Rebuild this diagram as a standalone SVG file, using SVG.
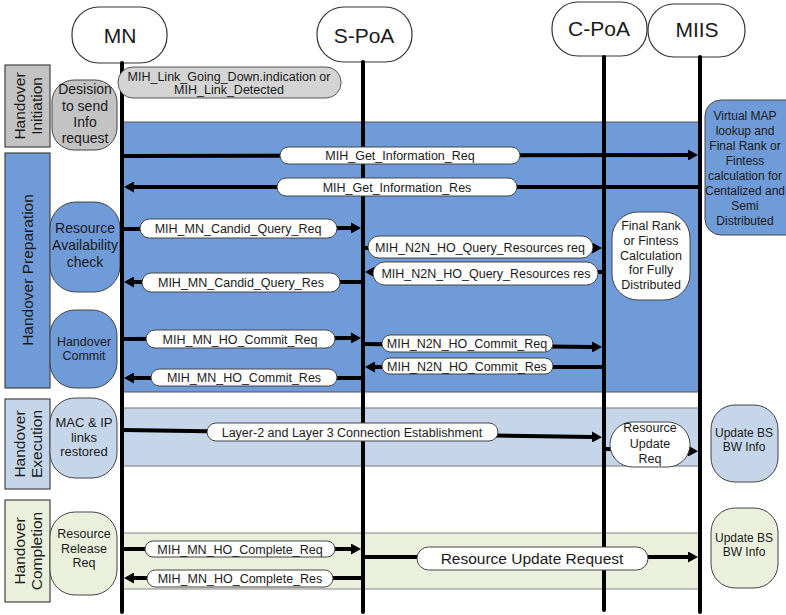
<svg xmlns="http://www.w3.org/2000/svg" width="786" height="615" viewBox="0 0 786 615">
<defs>
<style>
text{font-family:"Liberation Sans",Arial,sans-serif;fill:#1a1a1a}
.actor{fill:#fff;stroke:#333;stroke-width:1.2}
.actor-t{font-size:21px;text-anchor:middle}
.life{stroke:#000;stroke-width:4;stroke-linecap:round}
.msg{stroke:#000;stroke-width:4;fill:none;marker-end:url(#ah)}
.pill{fill:#fff;stroke:#444;stroke-width:1}
.pt{font-size:12.5px;text-anchor:middle}
.phase{stroke:#444;stroke-width:1.2}
.ph-t{font-size:15.5px;text-anchor:middle}
.step{stroke:#444;stroke-width:1}
.st{text-anchor:middle}
.gray{fill:#c3c3c3}
.blue{fill:#6f9bd8}
.lblue{fill:#c6d6ea}
.lgreen{fill:#ebf0dd}
</style>
<marker id="ah" markerUnits="userSpaceOnUse" markerWidth="11" markerHeight="11" refX="1" refY="5.5" orient="auto"><path d="M0,0 L10,5.5 L0,11 z" fill="#000"/></marker>
</defs>

<!-- phase regions -->
<g id="regions">
<rect x="122" y="122" width="578" height="270" class="blue" stroke="#555" stroke-width="1"/>
<rect x="122" y="408" width="578" height="58" class="lblue" stroke="#888" stroke-width="1.2"/>
<rect x="122" y="533" width="578" height="56" class="lgreen" stroke="#999" stroke-width="1.2"/>
</g>

<!-- phase labels -->
<g id="phase-initiation">
<rect x="5" y="65" width="45" height="82" class="phase gray"/>
<text class="ph-t" transform="translate(25,106) rotate(-90)">Handover</text>
<text class="ph-t" transform="translate(42,106) rotate(-90)">Initiation</text>
</g>
<g id="phase-preparation">
<rect x="5" y="153" width="45" height="235" class="phase blue"/>
<text class="ph-t" transform="translate(33,270) rotate(-90)">Handover Preparation</text>
</g>
<g id="phase-execution">
<rect x="5" y="399" width="45" height="90" class="phase lblue"/>
<text class="ph-t" transform="translate(25,444) rotate(-90)">Handover</text>
<text class="ph-t" transform="translate(42,444) rotate(-90)">Execution</text>
</g>
<g id="phase-completion">
<rect x="5" y="500" width="45" height="102" class="phase lgreen"/>
<text class="ph-t" transform="translate(25,551) rotate(-90)">Handover</text>
<text class="ph-t" transform="translate(42,551) rotate(-90)">Completion</text>
</g>

<!-- step boxes -->
<g id="step-decision">
<rect x="52" y="80" width="65" height="70" rx="22" class="step gray"/>
<text class="st" font-size="14" x="85" y="94">Desision</text>
<text class="st" font-size="14" x="85" y="111">to send</text>
<text class="st" font-size="14" x="85" y="127">Info</text>
<text class="st" font-size="14" x="85" y="143">request</text>
</g>
<g id="step-resource-check">
<rect x="50" y="202" width="70" height="90" rx="26" class="step blue"/>
<text class="st" font-size="14" x="85" y="233">Resource</text>
<text class="st" font-size="14" x="85" y="250">Availability</text>
<text class="st" font-size="14" x="85" y="267">check</text>
</g>
<g id="step-commit">
<rect x="50" y="310" width="67" height="78" rx="25" class="step blue"/>
<text class="st" font-size="12.5" x="84" y="346">Handover</text>
<text class="st" font-size="12.5" x="84" y="360">Commit</text>
</g>
<g id="step-mac-ip">
<rect x="50" y="398" width="67" height="80" rx="25" class="step lblue"/>
<text class="st" font-size="13" x="84" y="427">MAC &amp; IP</text>
<text class="st" font-size="13" x="84" y="442">links</text>
<text class="st" font-size="13" x="84" y="456">restored</text>
</g>
<g id="step-release">
<rect x="50" y="512" width="67" height="83" rx="25" class="step lgreen"/>
<text class="st" font-size="12.5" x="84" y="538">Resource</text>
<text class="st" font-size="12.5" x="84" y="553">Release</text>
<text class="st" font-size="12.5" x="84" y="567">Req</text>
</g>

<!-- actors -->
<g id="actor-mn">
<rect x="72" y="7" width="95" height="56" rx="27" class="actor"/>
<text class="actor-t" x="120" y="43">MN</text>
</g>
<g id="actor-spoa">
<rect x="317" y="7" width="95" height="55" rx="27" class="actor"/>
<text class="actor-t" x="364" y="43">S-PoA</text>
</g>
<g id="actor-cpoa">
<rect x="552" y="2" width="95" height="54" rx="26" class="actor"/>
<text class="actor-t" x="599" y="36">C-PoA</text>
</g>
<g id="actor-miis">
<rect x="648" y="4" width="97" height="53" rx="26" class="actor"/>
<text class="actor-t" x="697" y="37">MIIS</text>
</g>

<!-- lifelines -->
<g id="lifelines">
<line x1="122" y1="63" x2="122" y2="612" class="life"/>
<line x1="363" y1="62" x2="363" y2="612" class="life"/>
<line x1="604" y1="57" x2="604" y2="610" class="life"/>
<line x1="700" y1="57" x2="700" y2="612" class="life"/>
</g>

<!-- right side notes -->
<g id="note-virtual-map">
<rect x="705" y="100" width="100" height="135" rx="16" class="step blue"/>
<g class="st" font-size="12">
<text x="745" y="120">Virtual MAP</text>
<text x="745" y="135">lookup and</text>
<text x="745" y="150">Final Rank or</text>
<text x="745" y="165">Fintess</text>
<text x="745" y="180">calculation for</text>
<text x="745" y="195">Centalized and</text>
<text x="745" y="210">Semi</text>
<text x="745" y="225">Distributed</text>
</g>
</g>
<g id="note-final-rank">
<rect x="612" y="212" width="78" height="88" rx="26" class="step" fill="#fff"/>
<g class="st" font-size="12.5">
<text x="651" y="230">Final Rank</text>
<text x="651" y="245">or Fintess</text>
<text x="651" y="260">Calculation</text>
<text x="651" y="274">for Fully</text>
<text x="651" y="289">Distributed</text>
</g>
</g>
<g id="note-update-exec">
<rect x="711" y="405" width="67" height="77" rx="24" class="step lblue"/>
<text class="st" font-size="12" x="744" y="437">Update BS</text>
<text class="st" font-size="12" x="744" y="451">BW Info</text>
</g>
<g id="note-update-compl">
<rect x="711" y="508" width="67" height="80" rx="24" class="step lgreen"/>
<text class="st" font-size="12" x="744" y="542">Update BS</text>
<text class="st" font-size="12" x="744" y="556">BW Info</text>
</g>

<!-- connectors -->
<g id="connectors">
<line x1="124" y1="156" x2="689" y2="155" class="msg"/>
<line x1="698" y1="187" x2="133" y2="187" class="msg"/>
<line x1="124" y1="229" x2="352" y2="228" class="msg"/>
<line x1="365" y1="248" x2="593" y2="248" class="msg"/>
<line x1="602" y1="272" x2="374" y2="272" class="msg"/>
<line x1="361" y1="282" x2="133" y2="282" class="msg"/>
<line x1="124" y1="339" x2="352" y2="338" class="msg"/>
<line x1="365" y1="344" x2="593" y2="347" class="msg"/>
<line x1="602" y1="367" x2="374" y2="367" class="msg"/>
<line x1="361" y1="378" x2="133" y2="378" class="msg"/>
<line x1="124" y1="430" x2="593" y2="437" class="msg"/>
<line x1="606" y1="449" x2="689" y2="451" class="msg"/>
<line x1="124" y1="549" x2="352" y2="549" class="msg"/>
<line x1="365" y1="557" x2="689" y2="557" class="msg"/>
<line x1="361" y1="578" x2="133" y2="578" class="msg"/>
</g>

<!-- message labels -->
<g id="label-link-going-down">
<rect x="118" y="67" width="223" height="31" rx="15" fill="#d4d4d4" stroke="#555" stroke-width="1"/>
<text class="pt" x="229" y="80.5">MIH_Link_Going_Down.indication or</text>
<text class="pt" x="229" y="94">MIH_Link_Detected</text>
</g>
<g id="label-get-info-req"><rect x="280" y="147" width="240" height="17" rx="8.5" class="pill"/><text class="pt" x="400" y="160">MIH_Get_Information_Req</text></g>
<g id="label-get-info-res"><rect x="277" y="178" width="240" height="18" rx="9" class="pill"/><text class="pt" x="397" y="191.5">MIH_Get_Information_Res</text></g>
<g id="label-candid-req"><rect x="140" y="219" width="197" height="19" rx="9.5" class="pill"/><text class="pt" x="238" y="233">MIH_MN_Candid_Query_Req</text></g>
<g id="label-n2n-query-req"><rect x="368" y="236" width="225" height="22" rx="11" class="pill"/><text class="pt" x="480" y="251.5">MIH_N2N_HO_Query_Resources req</text></g>
<g id="label-n2n-query-res"><rect x="373" y="262" width="225" height="23" rx="11.5" class="pill"/><text class="pt" x="486" y="278">MIH_N2N_HO_Query_Resources res</text></g>
<g id="label-candid-res"><rect x="142" y="273" width="198" height="19" rx="9.5" class="pill"/><text class="pt" x="241" y="287">MIH_MN_Candid_Query_Res</text></g>
<g id="label-commit-req"><rect x="146" y="330" width="189" height="18" rx="9" class="pill"/><text class="pt" x="240" y="343.5">MIH_MN_HO_Commit_Req</text></g>
<g id="label-n2n-commit-req"><rect x="382" y="335" width="171" height="17" rx="8.5" class="pill"/><text class="pt" x="467" y="348">MIH_N2N_HO_Commit_Req</text></g>
<g id="label-n2n-commit-res"><rect x="382" y="358" width="171" height="16" rx="8" class="pill"/><text class="pt" x="467" y="370.5">MIH_N2N_HO_Commit_Res</text></g>
<g id="label-commit-res"><rect x="151" y="369" width="186" height="17" rx="8.5" class="pill"/><text class="pt" x="244" y="382">MIH_MN_HO_Commit_Res</text></g>
<g id="label-layer23"><rect x="207" y="423" width="291" height="18" rx="9" class="pill"/><text class="pt" x="352" y="436.5">Layer-2 and Layer 3 Connection Establishment</text></g>
<g id="label-resource-update-req">
<rect x="610" y="422" width="80" height="45" rx="22.5" class="pill"/>
<text class="st" font-size="12.5" x="650" y="432">Resource</text>
<text class="st" font-size="12.5" x="650" y="448">Update</text>
<text class="st" font-size="12.5" x="650" y="463">Req</text>
</g>
<g id="label-complete-req"><rect x="145" y="541" width="190" height="16" rx="8" class="pill"/><text class="pt" x="240" y="553.5">MIH_MN_HO_Complete_Req</text></g>
<g id="label-resource-update-request"><rect x="417" y="547" width="231" height="23" rx="11.5" class="pill"/><text class="st" font-size="15.5" x="532" y="564">Resource Update Request</text></g>
<g id="label-complete-res"><rect x="147" y="570" width="186" height="17" rx="8.5" class="pill"/><text class="pt" x="240" y="583">MIH_MN_HO_Complete_Res</text></g>
</svg>
